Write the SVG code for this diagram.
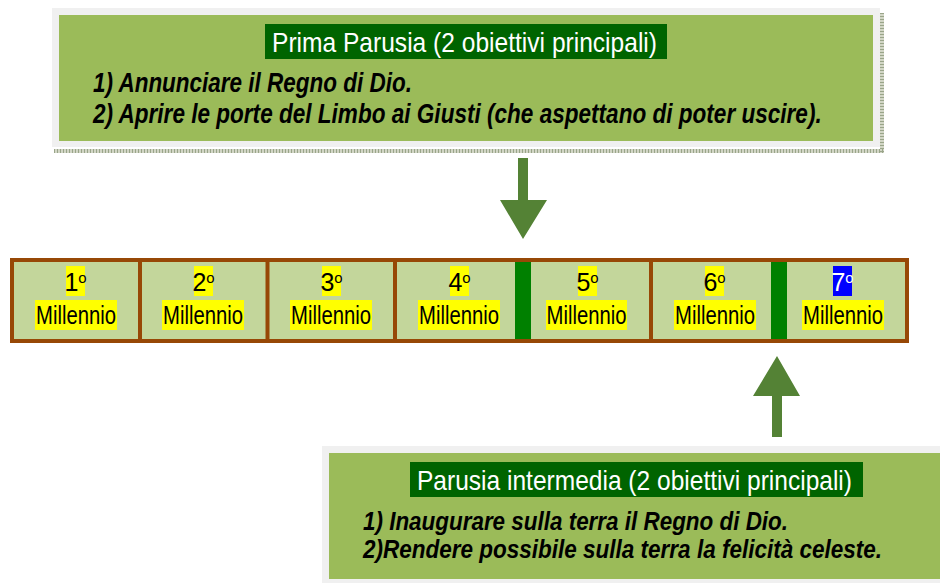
<svg xmlns="http://www.w3.org/2000/svg" width="940" height="583" viewBox="0 0 940 583">
<style>
.frame{fill:#F0F0F0}
.panel{fill:#9BBB59}
.hl{fill:#006400}
.title{font-family:"Liberation Sans",Arial,sans-serif;font-size:28px;fill:#FFFFFF}
.item{font-family:"Liberation Sans",Arial,sans-serif;font-size:28px;font-weight:bold;font-style:italic;fill:#000000}
.item2{font-family:"Liberation Sans",Arial,sans-serif;font-size:25px;font-weight:bold;font-style:italic;fill:#000000}
.cell{fill:#C3D69B}
.sep{stroke:#974806;stroke-width:4}
.bar{fill:#008000}
.yel{fill:#FFFF00}
.blu{fill:#0000FF}
.num{font-family:"Liberation Sans",Arial,sans-serif;font-size:25px;fill:#000000;text-anchor:middle}
.mil{font-family:"Liberation Sans",Arial,sans-serif;font-size:25px;fill:#000000;text-anchor:middle}
.arrow{fill:#548235}
.tex{stroke:#9AA58A;stroke-width:4;stroke-dasharray:1 2}
</style>
<rect width="940" height="583" fill="#FFFFFF"/>

<g id="top-box">
  <rect x="54" y="149" width="830" height="4" fill="#D2D6C6"/>
  <rect x="880" y="13" width="4" height="140" fill="#D2D6C6"/>
  <line x1="54" y1="151" x2="884" y2="151" class="tex"/>
  <line x1="882" y1="13" x2="882" y2="153" class="tex"/>
  <rect x="52" y="8" width="828" height="139" class="frame"/>
  <rect x="59" y="15" width="814" height="126" class="panel"/>
  <rect x="265" y="24" width="402" height="35" class="hl"/>
  <text x="272" y="52" class="title" textLength="385" lengthAdjust="spacingAndGlyphs">Prima Parusia (2 obiettivi principali)</text>
  <text x="93" y="92" class="item" textLength="319" lengthAdjust="spacingAndGlyphs">1) Annunciare il Regno di Dio.</text>
  <text transform="translate(93,123) scale(0.7,1)" x="0" y="0" class="item" textLength="1041" lengthAdjust="spacingAndGlyphs">2) Aprire le porte del Limbo ai Giusti (che aspettano di poter uscire).</text>
</g>

<g id="timeline">
  <rect x="12" y="260" width="895" height="81" class="cell" stroke="#974806" stroke-width="4"/>
  <line x1="140" y1="260" x2="140" y2="341" class="sep"/>
  <line x1="267.5" y1="260" x2="267.5" y2="341" class="sep"/>
  <line x1="395" y1="260" x2="395" y2="341" class="sep"/>
  <line x1="651" y1="260" x2="651" y2="341" class="sep"/>
  <rect x="515" y="262" width="16" height="77" class="bar"/>
  <rect x="771" y="262" width="16" height="77" class="bar"/>
</g>

<g id="m1">
  <rect x="66" y="266" width="19" height="30" class="yel"/>
  <rect x="35" y="300" width="82" height="30" class="yel"/>
  <text x="75.5" y="291" class="num">1<tspan font-size="15" dy="-8">o</tspan></text>
  <text x="76" y="324" class="mil" textLength="80" lengthAdjust="spacingAndGlyphs">Millennio</text>
</g>
<g id="m2">
  <rect x="194" y="266" width="19" height="30" class="yel"/>
  <rect x="162" y="300" width="82" height="30" class="yel"/>
  <text x="203.5" y="291" class="num">2<tspan font-size="15" dy="-8">o</tspan></text>
  <text x="203" y="324" class="mil" textLength="80" lengthAdjust="spacingAndGlyphs">Millennio</text>
</g>
<g id="m3">
  <rect x="322" y="266" width="19" height="30" class="yel"/>
  <rect x="290" y="300" width="82" height="30" class="yel"/>
  <text x="331.5" y="291" class="num">3<tspan font-size="15" dy="-8">o</tspan></text>
  <text x="331" y="324" class="mil" textLength="80" lengthAdjust="spacingAndGlyphs">Millennio</text>
</g>
<g id="m4">
  <rect x="450" y="266" width="19" height="30" class="yel"/>
  <rect x="418" y="300" width="82" height="30" class="yel"/>
  <text x="459.5" y="291" class="num">4<tspan font-size="15" dy="-8">o</tspan></text>
  <text x="459" y="324" class="mil" textLength="80" lengthAdjust="spacingAndGlyphs">Millennio</text>
</g>
<g id="m5">
  <rect x="578" y="266" width="19" height="30" class="yel"/>
  <rect x="546" y="300" width="81" height="30" class="yel"/>
  <text x="587.5" y="291" class="num">5<tspan font-size="15" dy="-8">o</tspan></text>
  <text x="586.5" y="324" class="mil" textLength="80" lengthAdjust="spacingAndGlyphs">Millennio</text>
</g>
<g id="m6">
  <rect x="705" y="266" width="19" height="30" class="yel"/>
  <rect x="674" y="300" width="82" height="30" class="yel"/>
  <text x="714.5" y="291" class="num">6<tspan font-size="15" dy="-8">o</tspan></text>
  <text x="715" y="324" class="mil" textLength="80" lengthAdjust="spacingAndGlyphs">Millennio</text>
</g>
<g id="m7">
  <rect x="833" y="266" width="19" height="30" class="blu"/>
  <rect x="802" y="300" width="82" height="30" class="yel"/>
  <text x="842.5" y="291" class="num" style="fill:#FFFFFF">7<tspan font-size="15" dy="-8">o</tspan></text>
  <text x="843" y="324" class="mil" textLength="80" lengthAdjust="spacingAndGlyphs">Millennio</text>
</g>

<g id="bottom-box">
  <rect x="322" y="446" width="618" height="137" class="frame"/>
  <rect x="329" y="453" width="611" height="126" class="panel"/>
  <rect x="410" y="462" width="453" height="35" class="hl"/>
  <text x="417" y="490" class="title" textLength="435" lengthAdjust="spacingAndGlyphs">Parusia intermedia (2 obiettivi principali)</text>
  <text x="363" y="530" class="item2" textLength="425" lengthAdjust="spacingAndGlyphs">1) Inaugurare sulla terra il Regno di Dio.</text>
  <text x="363" y="558" class="item2" textLength="519" lengthAdjust="spacingAndGlyphs">2)Rendere possibile sulla terra la felicità celeste.</text>
</g>

<g id="connectors">
  <polygon class="arrow" points="518,158 528,158 528,200 547,200 523,239 500,200 518,200"/>
  <polygon class="arrow" points="772,437 782,437 782,396 800,396 777,356 753,396 772,396"/>
</g>
</svg>
